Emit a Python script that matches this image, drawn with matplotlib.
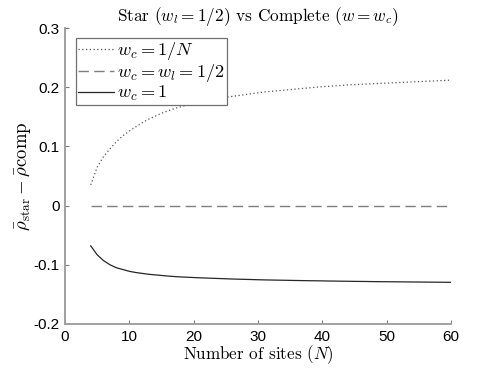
import numpy as np
import matplotlib
matplotlib.use("Agg")
import matplotlib.pyplot as plt

plt.rcParams["mathtext.fontset"] = "cm"

# number of sites
n_sites = list(range(4, 61))

# w_c = 1/N (dotted)
diff_inv_n = [0.035, 0.065, 0.083, 0.096, 0.108, 0.118, 0.126, 0.133, 0.140, 0.146,
              0.151, 0.156, 0.160, 0.164, 0.167, 0.170, 0.172, 0.175, 0.177, 0.179,
              0.181, 0.183, 0.1845, 0.186, 0.1875, 0.189, 0.1905, 0.192, 0.193, 0.194,
              0.195, 0.196, 0.197, 0.198, 0.199, 0.200, 0.201, 0.2015, 0.2025, 0.203,
              0.204, 0.2045, 0.205, 0.2055, 0.206, 0.2065, 0.207, 0.2075, 0.208, 0.2085,
              0.209, 0.2095, 0.210, 0.2105, 0.211, 0.2115, 0.212]

# w_c = w_l = 1/2 (dashed)
diff_half = [0.0] * len(n_sites)

# w_c = 1 (solid)
diff_one = [-0.068, -0.083, -0.093, -0.100, -0.105, -0.108, -0.111, -0.113, -0.1145, -0.116,
            -0.117, -0.118, -0.119, -0.1198, -0.1205, -0.121, -0.1215, -0.122, -0.1224, -0.1228,
            -0.1232, -0.1236, -0.124, -0.1243, -0.1246, -0.1249, -0.1252, -0.1255, -0.1257, -0.1259,
            -0.1261, -0.1263, -0.1265, -0.1267, -0.1269, -0.127, -0.1272, -0.1274, -0.1275, -0.1277,
            -0.1278, -0.128, -0.1281, -0.1282, -0.1284, -0.1285, -0.1286, -0.1287, -0.1288, -0.1289,
            -0.129, -0.1291, -0.1292, -0.1293, -0.1294, -0.1295, -0.1296]

x_ticks = [0, 10, 20, 30, 40, 50, 60]
y_ticks = [-0.2, -0.1, 0, 0.1, 0.2, 0.3]
y_tick_labels = ["-0.2", "-0.1", "0", "0.1", "0.2", "0.3"]

fig = plt.figure(figsize=(4.98, 3.74), dpi=100)
ax = fig.add_axes([0.1305, 0.1337, 0.775, 0.7913])

ax.plot(n_sites, diff_inv_n, linestyle=(0, (1, 2)), color="#555555", lw=0.9,
        label=r"$w_c = 1/N$")
ax.plot(n_sites, diff_half, linestyle=(0, (7.5, 3.8)), color="#7f7f7f", lw=1.0,
        label=r"$w_c = w_l = 1/2$")
ax.plot(n_sites, diff_one, linestyle="-", color="#262626", lw=0.9,
        label=r"$w_c = 1$")

ax.set_xlim(0, 60)
ax.set_ylim(-0.2, 0.3)
ax.set_xticks(x_ticks)
ax.set_xticklabels([str(t) for t in x_ticks], family="Liberation Sans", fontsize=11)
ax.set_yticks(y_ticks)
ax.set_yticklabels(y_tick_labels, family="Liberation Sans", fontsize=11)

for side in ["top", "right"]:
    ax.spines[side].set_visible(False)
for side in ["left", "bottom"]:
    ax.spines[side].set_color("#a0a0a0")
    ax.spines[side].set_linewidth(1.4)
ax.tick_params(direction="in", length=3, width=0.8, color="#7a7a7a", pad=4)

ax.set_title(r"Star ($w_l = 1/2$) vs Complete ($w = w_c$)", family="cmr10",
             fontsize=12.4, pad=4)
ax.set_xlabel(r"Number of sites ($N$)", family="cmr10", fontsize=12.3, labelpad=0)
ax.set_ylabel(r"$\bar{\rho}_{\rm star} - \bar{\rho}{\rm comp}$", fontsize=13.5, labelpad=0)

leg = ax.legend(loc="upper left", bbox_to_anchor=(0.028, 0.966), fontsize=13.2,
                handlelength=2.0, handletextpad=0.15, borderpad=0.1, labelspacing=0.0,
                borderaxespad=0, fancybox=False, framealpha=1)
leg.get_frame().set_edgecolor("#707070")
leg.get_frame().set_linewidth(0.9)

fig.savefig("out.png", dpi=100)
